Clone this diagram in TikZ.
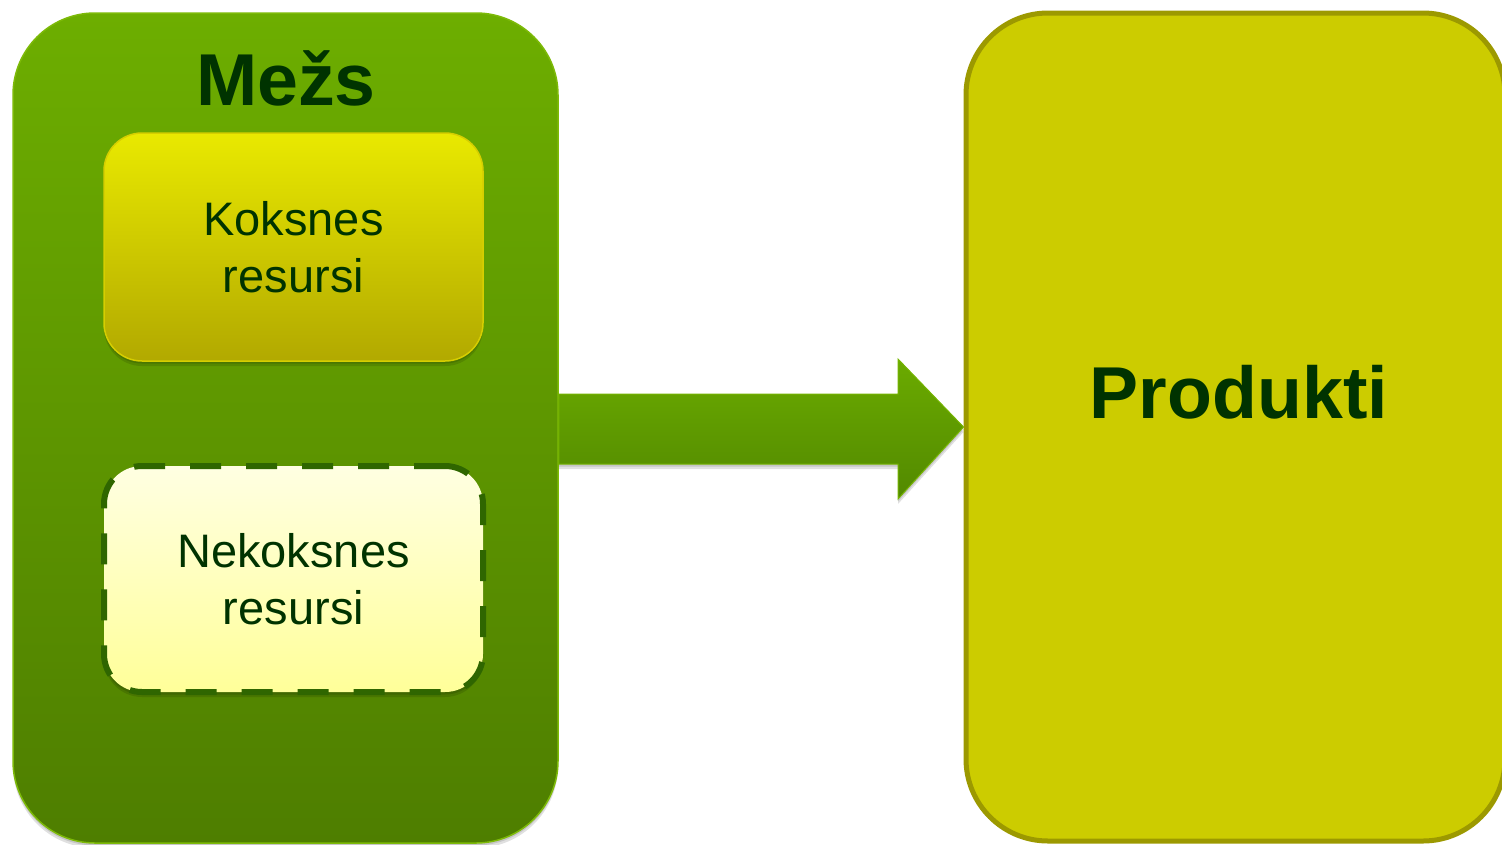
\documentclass[tikz,border=0pt]{standalone}
\usepackage{fontspec}
\setmainfont{Liberation Sans}
\usetikzlibrary{shadows}
\definecolor{txtgreen}{HTML}{003300}
\definecolor{mezstop}{HTML}{6DAE00}
\definecolor{mezsbot}{HTML}{4E7E00}
\definecolor{mezsline}{HTML}{7DBA08}
\definecolor{kokstop}{HTML}{E9E900}
\definecolor{koksbot}{HTML}{B2A900}
\definecolor{koksline}{HTML}{D6CE00}
\definecolor{nektop}{HTML}{FFFFE2}
\definecolor{nekbot}{HTML}{FFFF99}
\definecolor{nekline}{HTML}{2F6600}
\definecolor{arrtop}{HTML}{6BAB00}
\definecolor{arrbot}{HTML}{528900}
\definecolor{arrline}{HTML}{75B400}
\definecolor{prodfill}{HTML}{CCCC00}
\definecolor{prodline}{HTML}{9C9900}
\tikzset{
  softshadow/.style={
    drop shadow={opacity=0.12, shadow xshift=0pt, shadow yshift=-5pt, fill=black},
    drop shadow={opacity=0.12, shadow xshift=0pt, shadow yshift=-2.5pt, fill=black}},
  bigbox/.style={rectangle, rounded corners=82pt, inner sep=0pt},
  smallbox/.style={rectangle, rounded corners=38pt, inner sep=0pt,
    minimum width=379pt, align=center, text=txtgreen,
    font=\fontsize{47}{57}\selectfont},
  titletext/.style={text=txtgreen, font=\fontsize{73.5}{88}\selectfont\bfseries, inner sep=0pt},
}
\begin{document}
\begin{tikzpicture}[x=1pt,y=-1pt]
\useasboundingbox (0,0) rectangle (1502,844);
\clip (0,0) rectangle (1502,844);
% left big box
\node[bigbox, softshadow, top color=mezstop, bottom color=mezsbot, draw=mezsline, line width=1.5pt,
  minimum width=545pt, minimum height=830pt] (mezsbox) at (285.5,428) {};
% right big box
\node[bigbox, fill=prodfill, draw=prodline, line width=5pt,
  minimum width=539pt, minimum height=828pt] (prod) at (1235.5,427) {};
% titles
\node[titletext, anchor=base] (mezs) at (286,105) {Mežs};
\node[titletext, anchor=base] (produkti) at (1239,418) {Produkti};
% inner boxes
\node[smallbox, softshadow, top color=kokstop, bottom color=koksbot, draw=koksline, line width=1.5pt,
  minimum height=228pt] (koks) at (293.5,247) {Koksnes\\resursi};
\node[smallbox, softshadow, top color=nektop, bottom color=nekbot, draw=nekline, line width=6pt,
  dash pattern=on 31pt off 25pt, minimum height=226pt] (nekoks) at (293.5,579) {Nekoksnes\\resursi};
% block arrow
\coordinate (tip) at (prod.west);
\path[softshadow, top color=arrtop, bottom color=arrbot, draw=arrline, line width=1pt]
  (mezsbox.east |- 0,394) -- (898,394) -- (898,359) -- (tip) -- (898,499) -- (898,464)
  -- (mezsbox.east |- 0,464) -- cycle;
\end{tikzpicture}
\end{document}
